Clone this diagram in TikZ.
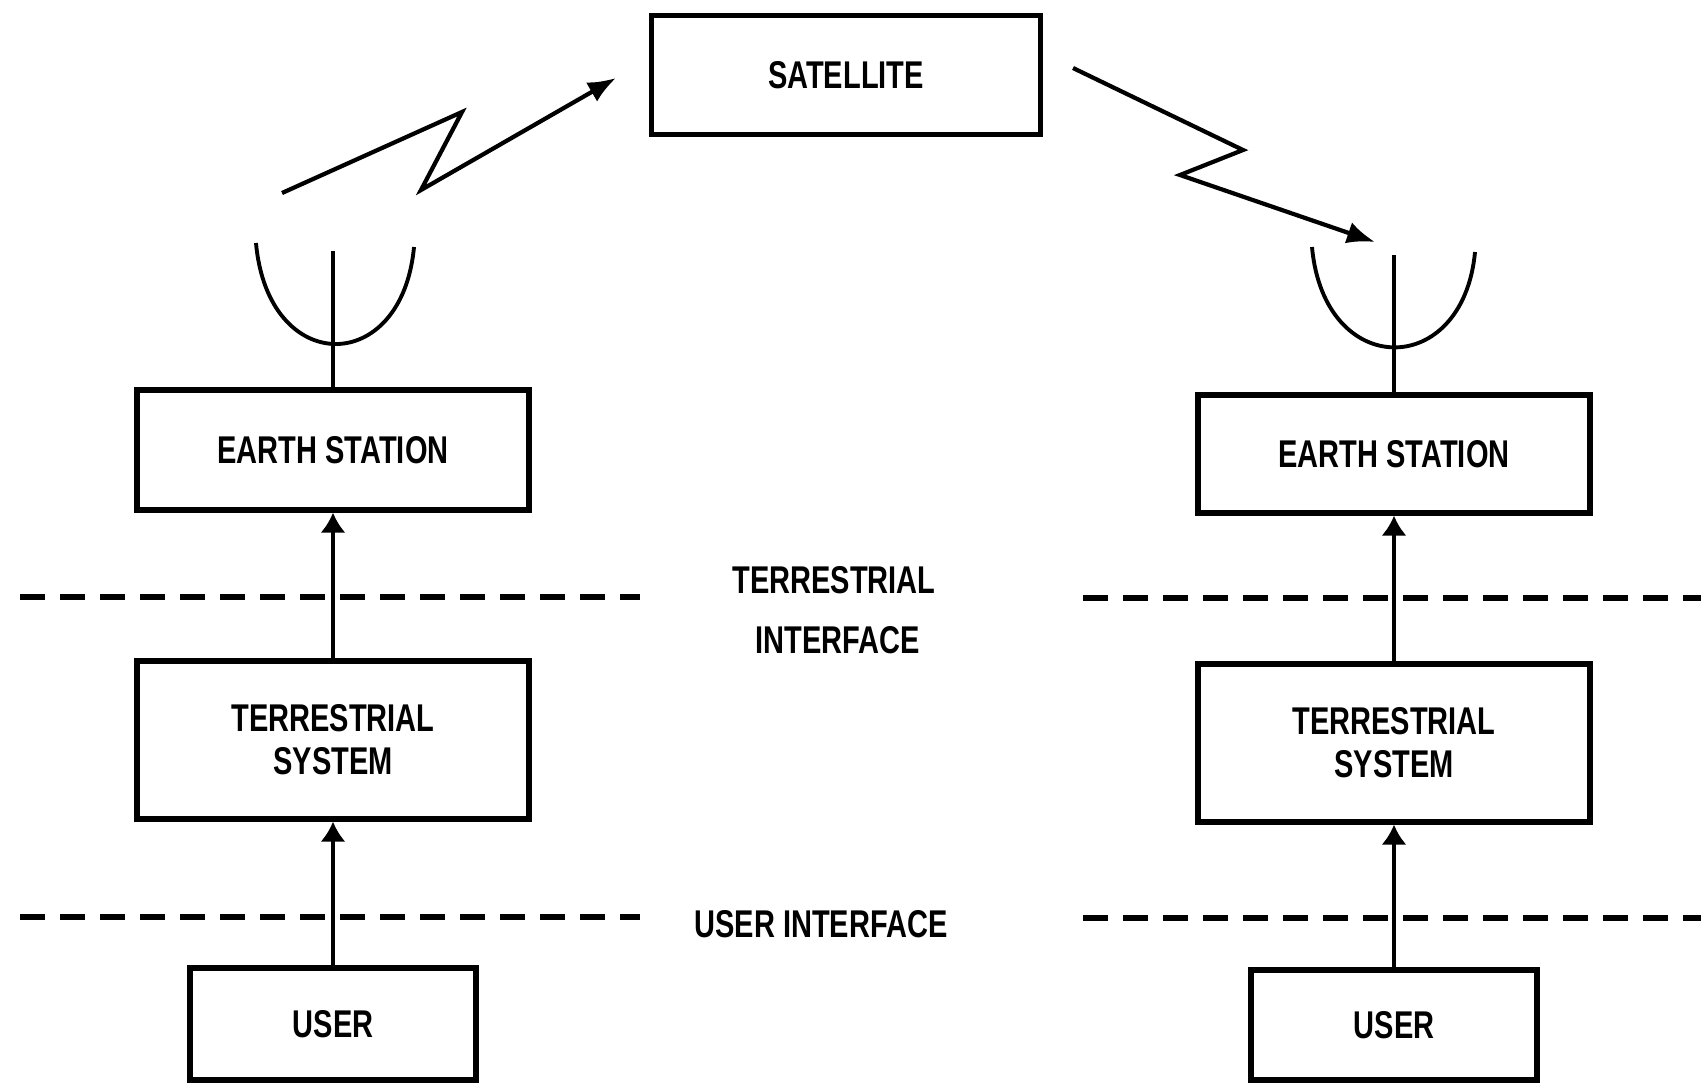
\documentclass[tikz,border=0pt]{standalone}
\usepackage{fontspec}
\setmainfont[FakeStretch=0.75]{Liberation Sans}
\usetikzlibrary{arrows.meta}

\begin{document}
\begin{tikzpicture}
[x=0.01cm,y=-0.01cm,
  boxDecorate/.style={shape=rectangle,draw,line width=1.5pt,align=center,
    inner sep=0pt,font=\fontsize{11}{12.2}\selectfont\bfseries},
  textDecorate/.style={anchor=base,inner sep=0pt,font=\fontsize{11}{12}\selectfont\bfseries},
  lineDecorate/.style={-{Latex[length=0.2cm,width=0.25cm]},line width=0.9pt},
  radioDecorate/.style={-{Latex[length=0.28cm,width=0.22cm]},line width=1.2pt,
    line join=miter},
  dishDecorate/.style={line width=1.1pt},
  dashDecorate/.style={line width=1.6pt,dash pattern=on 0.25cm off 0.15cm}]
\useasboundingbox (0,0) rectangle (1701,1084);
%% boxes
\foreach \nodename/\x/\y/\w/\h/\txt in {
  sat/846/75/389/119/SATELLITE,
  esL/333/450/392/120/EARTH STATION,
  tsL/333/740/392/158/{TERRESTRIAL\\SYSTEM},
  usL/333/1024/286/112/USER,
  esR/1394/454/392/118/EARTH STATION,
  tsR/1394/743/392/158/{TERRESTRIAL\\SYSTEM},
  usR/1394/1025/286/110/USER}
{
  \node (\nodename) at (\x,\y) [boxDecorate,minimum width=\w*0.01cm,
    minimum height=\h*0.01cm] {\txt};
}
%% interface labels
\node (tiTop) at (834,593) [textDecorate] {TERRESTRIAL};
\node (tiBot) at (838,653) [textDecorate] {INTERFACE};
\node (uiLabel) at (821,937) [textDecorate] {USER INTERFACE};
%% interface lines
\foreach \xa/\xb/\y in {20/640/597, 1083/1701/598, 20/640/917, 1083/1701/918}
{
  \draw[dashDecorate] (\xa,\y) -- (\xb,\y);
}
%% antennas
\coordinate (mastL) at (333,251);
\coordinate (mastR) at (1394,255);
\draw[dishDecorate] (256,243) .. controls (268,377) and (402,377) .. (414,247);
\draw[dishDecorate] (1312,247) .. controls (1324,380) and (1463,380) .. (1475,252);
\draw[dishDecorate] (esL.north) -- (mastL);
\draw[dishDecorate] (esR.north) -- (mastR);
%% radio links
\draw[radioDecorate] (282,193) -- (462,112) -- (421,190) -- (616,78);
\draw[radioDecorate] (1073,68) -- (1243,150) -- (1180,175) -- (1375,242);
%% edges or lines
\path
\foreach \startnode/\endnode in {tsL/esL, usL/tsL, tsR/esR, usR/tsR}
{
  (\startnode) edge[lineDecorate] (\endnode)
};
\end{tikzpicture}
\end{document}
